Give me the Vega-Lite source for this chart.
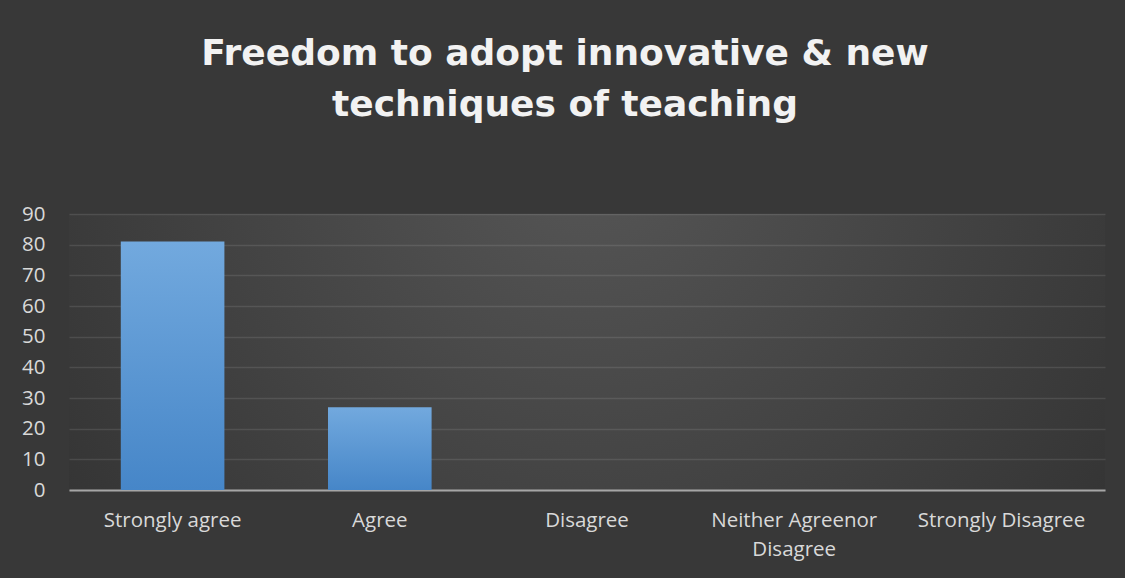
{
  "$schema": "https://vega.github.io/schema/vega-lite/v6.json",
  "autosize": "none",
  "width": 1036,
  "height": 276,
  "padding": {"left": 69, "top": 214, "right": 20, "bottom": 88},
  "background": "#383838",
  "title": {
    "text": ["Freedom to adopt innovative & new", "techniques of teaching"],
    "font": "DejaVu Sans",
    "fontSize": 36,
    "fontWeight": "bold",
    "color": "#f2f2f2",
    "anchor": "middle",
    "frame": "group",
    "lineHeight": 51,
    "dx": -22,
    "offset": 80
  },
  "config": {
    "view": {
      "stroke": null,
      "fill": {
        "gradient": "radial",
        "x1": 0.5, "y1": 0.3, "r1": 0,
        "x2": 0.5, "y2": 0.3, "r2": 0.75,
        "stops": [
          {"offset": 0, "color": "#565656"},
          {"offset": 1, "color": "#2d2d2d"}
        ]
      }
    }
  },
  "data": {
    "values": [
      {"response": "Strongly agree", "count": 81},
      {"response": "Agree", "count": 27},
      {"response": "Disagree", "count": 0},
      {"response": "Neither Agreenor Disagree", "count": 0},
      {"response": "Strongly Disagree", "count": 0}
    ]
  },
  "mark": {
    "type": "bar",
    "color": {
      "gradient": "linear",
      "x1": 0, "y1": 0, "x2": 0, "y2": 1,
      "stops": [
        {"offset": 0, "color": "#72a9de"},
        {"offset": 1, "color": "#4686c8"}
      ]
    }
  },
  "encoding": {
    "x": {
      "field": "response",
      "type": "nominal",
      "sort": null,
      "scale": {"paddingInner": 0.5, "paddingOuter": 0.25},
      "axis": {
        "title": null,
        "labelAngle": 0,
        "labelFont": "Open Sans",
        "labelFontSize": 20.5,
        "labelColor": "#d9d9d9",
        "labelPadding": 20,
        "labelLineHeight": 29,
        "labelExpr": "datum.label == 'Neither Agreenor Disagree' ? ['Neither Agreenor', 'Disagree'] : datum.label",
        "ticks": false,
        "domainColor": "#a6a6a6",
        "domainWidth": 2,
        "grid": false
      }
    },
    "y": {
      "field": "count",
      "type": "quantitative",
      "scale": {"domain": [0, 90], "nice": false},
      "axis": {
        "title": null,
        "values": [0, 10, 20, 30, 40, 50, 60, 70, 80, 90],
        "labelFont": "Open Sans",
        "labelFontSize": 20.5,
        "labelColor": "#d9d9d9",
        "labelPadding": 24,
        "ticks": false,
        "domain": false,
        "grid": true,
        "gridColor": "#ffffff",
        "gridOpacity": 0.1,
        "gridWidth": 1.5
      }
    }
  }
}
